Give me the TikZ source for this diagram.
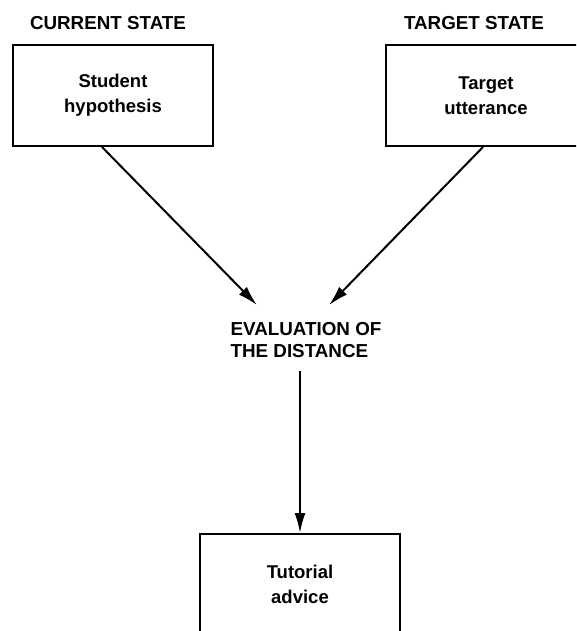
\documentclass[tikz,border=0pt]{standalone}
\usepackage{fontspec}
\setmainfont{Liberation Sans}
\usetikzlibrary{arrows.meta}

\begin{document}
\begin{tikzpicture}[x=1pt,y=-1pt]
  %\draw[help lines] (0,0) grid[step=50] (576,631);
  \tikzset{BoxStyle/.style = {%
      shape= rectangle,
      line width= 2pt,
      minimum width = 200pt, minimum height = 101pt,
      align= center, font= \bfseries\fontsize{18.5}{25}\selectfont, draw},
    HeadStyle/.style = {font= \bfseries\fontsize{18.8}{22}\selectfont, inner sep=0pt},
    ArrowStyle/.style = {line width= 2pt, -{Latex[length=20pt,width=11pt]}}}
  \useasboundingbox (0,0) rectangle (576,631);
  \clip (0,0) rectangle (576,631);
  % states
  \node[HeadStyle] (curhead) at (108,23) {CURRENT STATE};
  \node[HeadStyle] (tgthead) at (474,23) {TARGET STATE};
  \node[BoxStyle] (hyp) at (113,95.5) {Student\\hypothesis};
  \node[BoxStyle] (utt) at (486,95.5) {Target\\utterance};
  % distance
  \node[HeadStyle, align=left] (eval) at (306,340) {EVALUATION OF\\THE DISTANCE};
  \node[BoxStyle] (adv) at (300,584.5) {Tutorial\\advice};
  \draw[ArrowStyle] ([xshift=-11pt]hyp.south) -- ([xshift=-49pt,yshift=17pt]eval.north);
  \draw[ArrowStyle] ([xshift=-3pt]utt.south) -- ([xshift=23pt,yshift=17pt]eval.north);
  \draw[ArrowStyle] ([xshift=-6pt,yshift=-13pt]eval.south) -- (adv.north);
\end{tikzpicture}
\end{document}
